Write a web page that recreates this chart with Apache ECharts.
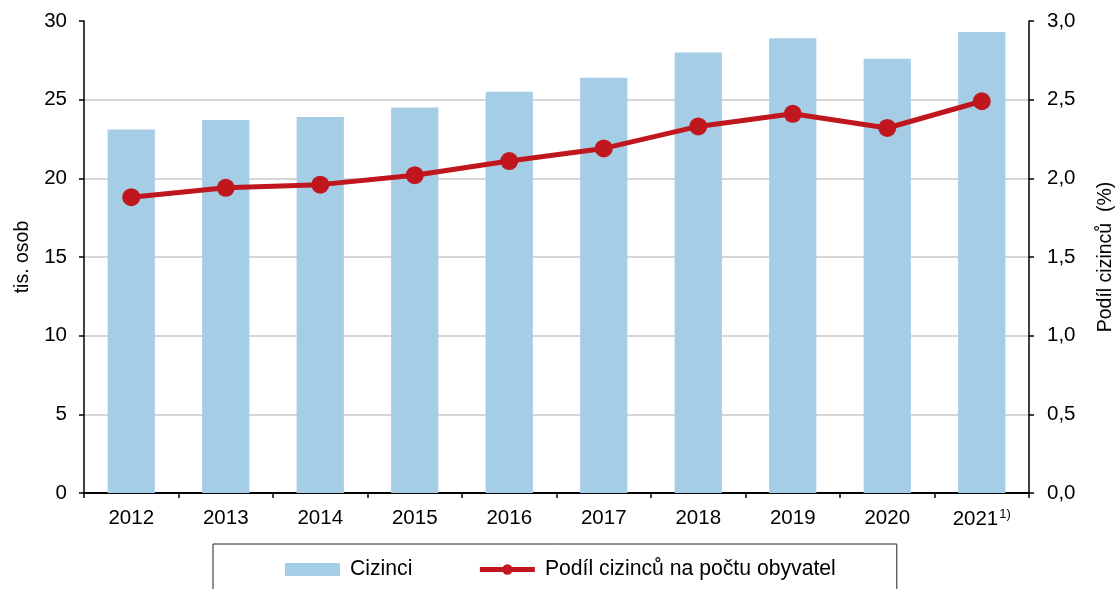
<!DOCTYPE html>
<html><head><meta charset="utf-8">
<script src="https://cdn.jsdelivr.net/npm/echarts@6/dist/echarts.min.js"></script>
<style>html,body{margin:0;padding:0;background:#fff}#c{width:1116px;height:589px}</style>
</head><body><div id="c"></div>
<script>
var years = ['2012','2013','2014','2015','2016','2017','2018','2019','2020','2021'];
var footnoteYear = '2021';
var foreigners = [23.1, 23.7, 23.9, 24.5, 25.5, 26.4, 28.0, 28.9, 27.6, 29.3];
var sharePct = [1.88, 1.94, 1.96, 2.02, 2.11, 2.19, 2.33, 2.41, 2.32, 2.49];
var leftTicks = {min: 0, max: 30, interval: 5};
var rightTicks = {min: 0, max: 3, interval: 0.5};
var nameBars = 'Cizinci';
var nameLine = 'Podíl cizinců na počtu obyvatel';

var font = '"Liberation Sans", Arial, sans-serif';
var fs = 20.5;
var chart = echarts.init(document.getElementById('c'));
chart.setOption({
  animation: false,
  textStyle: {fontFamily: font},
  grid: {left: 84, right: 87, top: 21, bottom: 96, containLabel: false, outerBoundsMode: 'none'},
  legend: {
    left: 213, top: 544,
    borderColor: '#222', borderWidth: 1,
    padding: [15, 61, 40, 72],
    itemGap: 65, itemWidth: 55, itemHeight: 13,
    textStyle: {fontFamily: font, fontSize: 21.2, color: '#000', padding: [0, 0, 0, 5]},
    lineStyle: {width: 5},
    data: [{name: nameBars, icon: 'rect'}, {name: nameLine}]
  },
  xAxis: [{
    type: 'category', data: years,
    axisLine: {lineStyle: {color: '#000', width: 1.5}},
    axisTick: {show: true, length: 5, lineStyle: {color: '#000', width: 1.5}},
    axisLabel: {
      color: '#000', fontSize: fs, margin: 15, fontFamily: font, interval: 0,
      formatter: function (v) { return v === footnoteYear ? v + '{sup|1)}' : v; },
      rich: {sup: {fontSize: 13, verticalAlign: 'top', padding: [0, 0, 9, 1], fontFamily: font, color: '#000'}}
    }
  }, {
    type: 'category', data: years, position: 'top',
    axisLine: {show: true, lineStyle: {color: '#000', width: 2}},
    axisTick: {show: false}, axisLabel: {show: false}, splitLine: {show: false}
  }],
  yAxis: [{
    type: 'value', min: leftTicks.min, max: leftTicks.max, interval: leftTicks.interval,
    name: 'tis. osob', nameLocation: 'middle', nameGap: 51, nameRotate: 90,
    nameTextStyle: {fontSize: fs - 1, color: '#000', fontFamily: font},
    axisLine: {show: true, lineStyle: {color: '#000', width: 1.5}},
    axisTick: {show: true, length: 5, lineStyle: {color: '#000', width: 1.5}},
    axisLabel: {color: '#000', fontSize: fs, margin: 17, fontFamily: font},
    splitLine: {showMaxLine: false, lineStyle: {color: '#c8c8c8', width: 1.5}}
  }, {
    type: 'value', min: rightTicks.min, max: rightTicks.max, interval: rightTicks.interval,
    position: 'right',
    name: 'Podíl cizinců  (%)', nameLocation: 'middle', nameGap: 67, nameRotate: 90,
    nameTextStyle: {fontSize: fs - 1, color: '#000', fontFamily: font},
    axisLine: {show: true, lineStyle: {color: '#000', width: 1.5}},
    axisTick: {show: true, length: 5, lineStyle: {color: '#000', width: 1.5}},
    axisLabel: {color: '#000', fontSize: fs, margin: 18, fontFamily: font,
      formatter: function (v) { return v.toFixed(1).replace('.', ','); }},
    splitLine: {show: false}
  }],
  series: [{
    name: nameBars, type: 'bar', data: foreigners, barWidth: '50%',
    itemStyle: {color: '#a6cde6'}
  }, {
    name: nameLine, type: 'line', yAxisIndex: 1, data: sharePct,
    symbol: 'circle', symbolSize: 18,
    lineStyle: {color: '#c0171f', width: 5},
    itemStyle: {color: '#c0171f'}
  }]
});
</script></body></html>
